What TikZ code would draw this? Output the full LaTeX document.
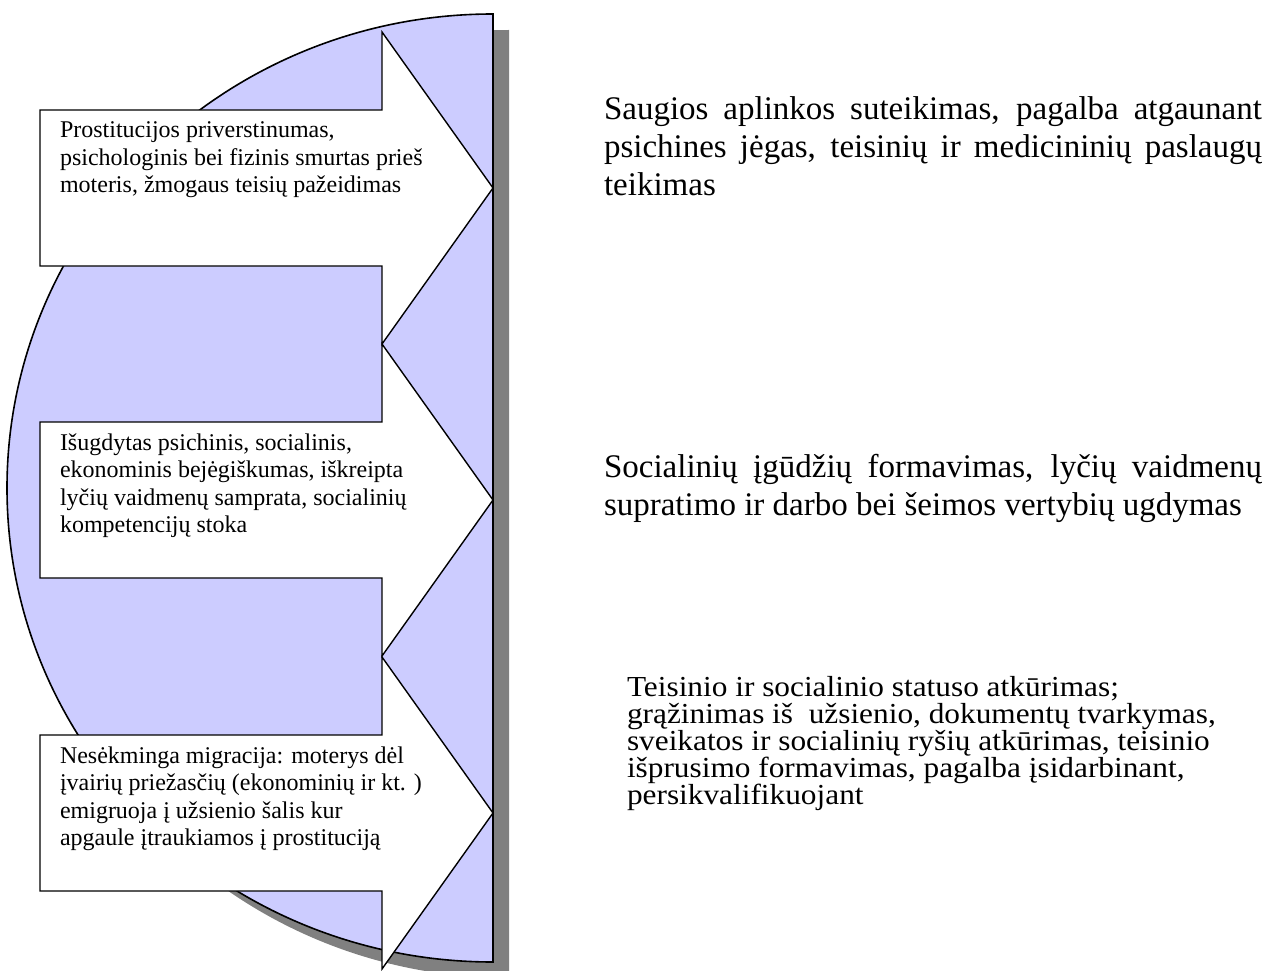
\documentclass[tikz,border=0pt]{standalone}
\usepackage{fontspec}
\setmainfont{Liberation Serif}
\newfontfamily\widefont[FakeStretch=1.08]{Liberation Serif}
\definecolor{lav}{RGB}{204,204,255}
\definecolor{shadowgray}{RGB}{128,128,128}
\tolerance=10000 \hbadness=10000 \hfuzz=20pt
\newcommand{\arrowfont}{\fontsize{24}{27.5}\selectfont}
\newcommand{\bigfont}{\fontsize{33}{38}\selectfont}
\newcommand{\widetextfont}{\widefont\fontsize{29}{27}\selectfont}
\tikzset{
  shadowshape/.style={fill=shadowgray, draw=none},
  halfdisk/.style={fill=lav, draw=black, line width=1.6pt},
  arrowshape/.style={fill=white, draw=black, line width=1.4pt, line join=miter},
  txt/.style={anchor=base west, inner sep=0pt, outer sep=0pt},
}
\begin{document}
\begin{tikzpicture}[x=1pt,y=-1pt]
\useasboundingbox (0,0) rectangle (1270,971);
% shadow
\fill[shadowshape] (509,30) arc[start angle=-90, end angle=-270, x radius=486, y radius=474] -- cycle;
% half disk
\draw[halfdisk] (493,14) arc[start angle=-90, end angle=-270, x radius=486, y radius=474] -- cycle;
% arrows
\draw[arrowshape] (40,110) -- (382,110) -- (382,32) -- (493,188) -- (382,344) -- (382,266) -- (40,266) -- cycle;
\draw[arrowshape] (40,422) -- (382,422) -- (382,344) -- (493,500) -- (382,656) -- (382,578) -- (40,578) -- cycle;
\draw[arrowshape] (40,735) -- (382,735) -- (382,657) -- (493,813) -- (382,969) -- (382,891) -- (40,891) -- cycle;
% arrow texts
\node[txt] (a1) at (60,138) {\parbox[t]{400pt}{\arrowfont Prostitucijos priverstinumas,\\psichologinis bei fizinis smurtas prieš\\moteris, žmogaus teisių pažeidimas}};
\node[txt] (a2) at (60,450) {\parbox[t]{400pt}{\arrowfont Išugdytas psichinis, socialinis,\\ekonominis bejėgiškumas, iškreipta\\lyčių vaidmenų samprata, socialinių\\kompetencijų stoka}};
\node[txt] (a3) at (60,763) {\parbox[t]{400pt}{\arrowfont Nesėkminga migracija: moterys dėl\\įvairių priežasčių (ekonominių ir kt. )\\emigruoja į užsienio šalis kur\\apgaule įtraukiamos į prostituciją}};
% right texts
\node[txt] (r1) at (604,120) {\parbox[t]{658pt}{\bigfont Saugios aplinkos suteikimas, pagalba atgaunant\linebreak psichines jėgas, teisinių ir medicininių paslaugų\linebreak teikimas}};
\node[txt] (r2) at (604,477) {\parbox[t]{658pt}{\bigfont Socialinių įgūdžių formavimas, lyčių vaidmenų\linebreak supratimo ir darbo bei šeimos vertybių ugdymas}};
\node[txt] (r3) at (627,696) {\parbox[t]{640pt}{\widetextfont Teisinio ir socialinio statuso atkūrimas;\\grąžinimas iš\ \ užsienio, dokumentų tvarkymas,\\sveikatos ir socialinių ryšių atkūrimas, teisinio\\išprusimo formavimas, pagalba įsidarbinant,\\persikvalifikuojant}};
\end{tikzpicture}
\end{document}
